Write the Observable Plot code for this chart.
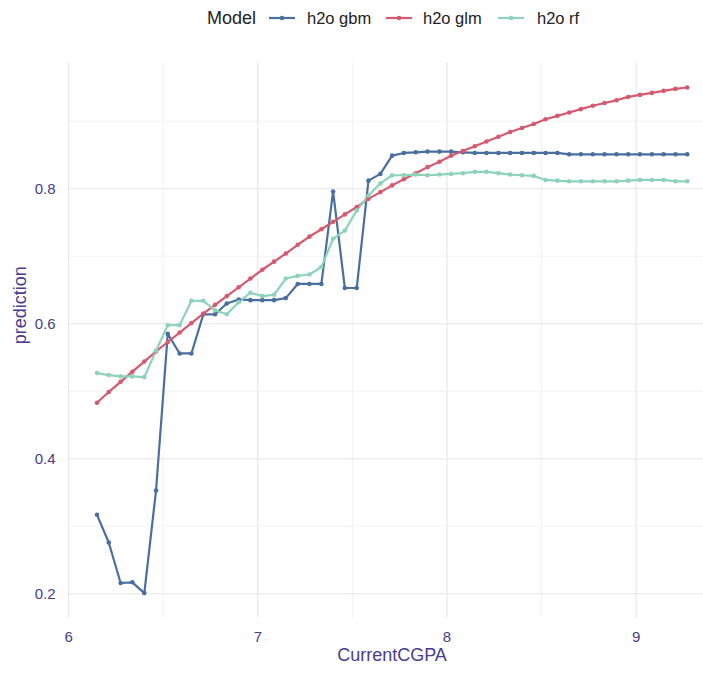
<!DOCTYPE html>
<html><head><meta charset="utf-8">
<script src="https://cdn.jsdelivr.net/npm/d3@7"></script>
<script src="https://cdn.jsdelivr.net/npm/@observablehq/plot@0.6"></script>
<style>
body{margin:0;background:#fff;font-family:"Liberation Sans",Arial,sans-serif;}
#wrap{position:relative;width:703px;height:673px;overflow:hidden;}
#legend{position:absolute;left:0;top:0;width:703px;height:40px;}
#chart{position:absolute;left:0;top:40px;}
</style></head><body>
<div id="wrap"><svg id="legend" width="703" height="40"></svg><div id="chart"></div></div>
<script>
const cgpa = [6.150,6.212,6.275,6.337,6.400,6.462,6.524,6.587,6.649,6.712,6.774,6.836,6.899,6.961,7.024,7.086,7.148,7.211,7.273,7.336,7.398,7.460,7.523,7.585,7.648,7.710,7.772,7.835,7.897,7.960,8.022,8.084,8.147,8.209,8.272,8.334,8.396,8.459,8.521,8.584,8.646,8.708,8.771,8.833,8.896,8.958,9.020,9.083,9.145,9.208,9.270];
const gbm = [0.317,0.276,0.216,0.217,0.201,0.353,0.585,0.556,0.556,0.614,0.614,0.630,0.636,0.635,0.635,0.635,0.638,0.659,0.659,0.659,0.796,0.653,0.653,0.812,0.822,0.849,0.853,0.854,0.855,0.855,0.855,0.854,0.853,0.853,0.853,0.853,0.853,0.853,0.853,0.853,0.851,0.851,0.851,0.851,0.851,0.851,0.851,0.851,0.851,0.851,0.851];
const glm = [0.483,0.499,0.514,0.529,0.544,0.559,0.573,0.587,0.601,0.615,0.628,0.641,0.654,0.667,0.680,0.692,0.704,0.717,0.729,0.740,0.751,0.762,0.773,0.785,0.795,0.805,0.814,0.823,0.832,0.840,0.849,0.856,0.863,0.870,0.877,0.884,0.890,0.896,0.903,0.908,0.913,0.918,0.923,0.927,0.931,0.936,0.939,0.942,0.945,0.948,0.950];
const rf = [0.527,0.524,0.522,0.522,0.521,0.560,0.598,0.598,0.634,0.634,0.620,0.614,0.632,0.646,0.641,0.643,0.667,0.671,0.673,0.684,0.726,0.738,0.768,0.790,0.808,0.820,0.820,0.821,0.820,0.821,0.822,0.823,0.825,0.825,0.823,0.821,0.820,0.819,0.813,0.812,0.811,0.811,0.811,0.811,0.811,0.812,0.813,0.813,0.813,0.811,0.811];
const models = ["h2o gbm","h2o glm","h2o rf"];
const colors = ["#4A6F9F","#D5596F","#8DD3BA"];
const xTicks = [6,7,8,9];
const yTicks = [0.2,0.4,0.6,0.8];
const xMinor = [6.5,7.5,8.5];
const yMinor = [0.3,0.5,0.7,0.9];

const series = [gbm, glm, rf];
const rows = models.flatMap((m, k) => cgpa.map((x, i) => ({model: m, x, y: series[k][i]})));

const axisColor = "#483D8B";
const font = "'Liberation Sans', Arial, sans-serif";

const chart = Plot.plot({
  width: 703, height: 633,
  marginLeft: 67, marginRight: 0, marginTop: 22, marginBottom: 55.4,
  x: {domain: [5.994, 9.356]},
  y: {domain: [0.164, 0.987]},
  color: {domain: models, range: colors},
  style: {fontFamily: font, background: "#fff", overflow: "visible"},
  marks: [
    Plot.ruleX(xMinor, {stroke: "#f3f3f3", strokeWidth: 1}),
    Plot.ruleY(yMinor, {stroke: "#f3f3f3", strokeWidth: 1}),
    Plot.ruleX(xTicks, {stroke: "#e6e6e6", strokeWidth: 1.1}),
    Plot.ruleY(yTicks, {stroke: "#e6e6e6", strokeWidth: 1.1}),
    Plot.axisX({ticks: xTicks, tickFormat: d => String(d), tickSize: 0, tickPadding: 13, fontSize: 15, color: axisColor, label: null}),
    Plot.axisY({ticks: yTicks, tickFormat: d => String(d), tickSize: 0, tickPadding: 12, fontSize: 15, color: axisColor, label: null}),
    Plot.line(rows, {x: "x", y: "y", z: "model", stroke: "model", strokeWidth: 2.2}),
    Plot.dot(rows, {x: "x", y: "y", fill: "model", r: 2.3}),
    Plot.text(["CurrentCGPA"], {text: d => d, frameAnchor: "bottom", dx: 6.5, dy: 42.4, fontSize: 18, fill: axisColor}),
    Plot.text(["prediction"], {text: d => d, frameAnchor: "left", dx: -47, dy: 4, rotate: -90, fontSize: 18, fill: axisColor})
  ]
});
document.getElementById("chart").appendChild(chart);

// legend
const lg = d3.select("#legend").style("font-family", font);
lg.append("text").attr("x", 207).attr("y", 24.3).attr("font-size", 18).attr("fill", "#222").text("Model");
const items = [
  {sx: 269, tx: 307},
  {sx: 386, tx: 423},
  {sx: 498, tx: 537}
];
items.forEach((it, k) => {
  lg.append("line").attr("x1", it.sx).attr("x2", it.sx + 26).attr("y1", 18).attr("y2", 18)
    .attr("stroke", colors[k]).attr("stroke-width", 2.2);
  lg.append("circle").attr("cx", it.sx + 13).attr("cy", 18).attr("r", 2.3).attr("fill", colors[k]);
  lg.append("text").attr("x", it.tx).attr("y", 23.5).attr("font-size", 16.5).attr("fill", "#222").text(models[k]);
});
</script>
</body></html>
